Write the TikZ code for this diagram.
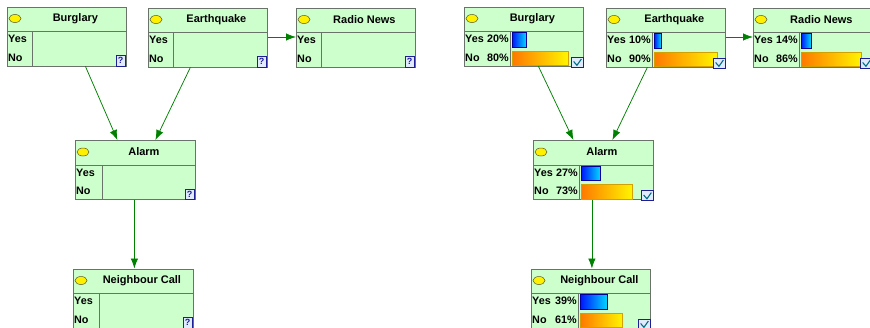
\documentclass[tikz,border=0pt]{standalone}
\usepackage{fontspec}
\setmainfont{Liberation Sans}
\usetikzlibrary{arrows.meta,shapes.geometric}

\definecolor{nodefill}{RGB}{204,255,204}
\definecolor{nodeframe}{RGB}{105,115,105}
\definecolor{linkgreen}{RGB}{0,128,0}
\definecolor{bulbyellow}{RGB}{255,240,0}
\definecolor{bulbframe}{RGB}{90,90,40}
\definecolor{yesdark}{RGB}{0,20,255}
\definecolor{yeslight}{RGB}{0,215,255}
\definecolor{yesframe}{RGB}{0,0,150}
\definecolor{nodark}{RGB}{255,120,0}
\definecolor{nolight}{RGB}{255,245,0}
\definecolor{noframe}{RGB}{210,160,0}
\definecolor{iconblue}{RGB}{30,30,150}
\definecolor{iconfill}{RGB}{225,235,255}
\definecolor{checkteal}{RGB}{0,110,130}

\newcommand{\bayesnode}[5]{%
  \node[nodebox, minimum width=#3pt, anchor=north west] (#1) at (#2) {};
  \draw[nodeline] ([yshift=-25pt]#1.north west) coordinate (#1-sep) -- ([yshift=-25pt]#1.north east);
  \draw[nodeline] ([xshift=#5pt]#1-sep) coordinate (#1-col) -- ([xshift=#5pt]#1.south west);
  \node[bulb] (#1-bulb) at ([xshift=8pt,yshift=-12pt]#1.north west) {};
  \node[nodetitle] (#1-title) at ([xshift=8.5pt,yshift=-12pt]#1.north) {#4};
  \node[statelabel, anchor=west] (#1-yes) at ([xshift=0.5pt,yshift=-7.5pt]#1-sep) {Yes};
  \node[statelabel, anchor=west] (#1-no) at ([xshift=0.5pt,yshift=-26pt]#1-sep) {No};
}
\newcommand{\bayesquery}[1]{%
  \node[queryicon, anchor=south east] (#1-query) at ([xshift=-1pt]#1.south east) {?};
}
\newcommand{\bayesbars}[3]{%
  \shade[yesbar] ([xshift=2pt,yshift=-1pt]#1-col) rectangle ++({0.7*#2},14.5);
  \shade[nobar] ([xshift=2pt,yshift=-19.5pt]#1-col) rectangle ++({0.7*#3},14.5);
  \node[statelabel, anchor=east] (#1-yesp) at ([xshift=-0.5pt]#1-col |- #1-yes) {#2\%};
  \node[statelabel, anchor=east] (#1-nop) at ([xshift=-0.5pt]#1-col |- #1-no) {#3\%};
  \node[checkicon, anchor=south east] (#1-check) at ([yshift=-1pt]#1.south east) {};
  \draw[checkmark] ([xshift=2.5pt,yshift=0.5pt]#1-check.west) -- ([xshift=-0.5pt,yshift=2pt]#1-check.south)
    -- ([xshift=-2.5pt,yshift=-2.5pt]#1-check.north east);
}

\begin{document}
\begin{tikzpicture}[x=1pt, y=-1pt,
    nodebox/.style={rectangle, draw=nodeframe, fill=nodefill, line width=0.8pt, inner sep=0pt, minimum height=59pt},
    nodeline/.style={draw=nodeframe, line width=0.8pt},
    bulb/.style={ellipse, draw=bulbframe, fill=bulbyellow, line width=0.5pt, inner sep=0pt, minimum width=12pt, minimum height=8pt},
    nodetitle/.style={font=\fontsize{11}{13}\selectfont\bfseries, inner sep=0pt},
    statelabel/.style={font=\fontsize{10.8}{13}\selectfont\bfseries, inner sep=0.5pt, text height=7.8pt, text depth=0pt},
    yesbar/.style={left color=yesdark, right color=yeslight, draw=yesframe, line width=0.5pt},
    nobar/.style={left color=nodark, right color=nolight, draw=noframe, line width=0.5pt},
    queryicon/.style={rectangle, draw=iconblue, fill=iconfill, text=iconblue, line width=0.7pt, inner sep=0pt,
      minimum width=9.5pt, minimum height=10.5pt, font=\fontsize{9}{9}\selectfont\bfseries},
    checkicon/.style={rectangle, draw=iconblue, fill=iconfill, line width=0.7pt, inner sep=0pt,
      minimum width=12pt, minimum height=10pt},
    checkmark/.style={draw=checkteal, line width=1.1pt},
    link/.style={draw=linkgreen, line width=0.75pt, -{Latex[length=10pt,width=7.5pt]}}]
  \useasboundingbox (0,0) rectangle (870,327);

  \bayesnode{burglary}{7,6.5}{119}{Burglary}{25}
  \bayesnode{earthquake}{148,7.5}{119}{Earthquake}{25}
  \bayesnode{radio}{296,7.5}{119}{Radio News}{25}
  \bayesnode{alarm}{75,140}{120}{Alarm}{27}
  \bayesnode{call}{73,268.5}{120}{Neighbour Call}{26}
  \bayesquery{burglary}
  \bayesquery{earthquake}
  \bayesquery{radio}
  \bayesquery{alarm}
  \bayesquery{call}

  \draw[link] ([xshift=18.5pt]burglary.south) -- ([xshift=-18pt]alarm.north);
  \draw[link] ([xshift=-17.5pt]earthquake.south) -- ([xshift=20pt]alarm.north);
  \draw[link] ([yshift=-29.5pt]earthquake.north east) -- ([yshift=-29.5pt]radio.north west);
  \draw[link] ([xshift=-1pt]alarm.south) -- ([xshift=-1pt]alarm.south |- call.north);

  \bayesnode{burglaryE}{464,6.5}{119}{Burglary}{46}
  \bayesnode{earthquakeE}{606,7.5}{119}{Earthquake}{46}
  \bayesnode{radioE}{753,7.5}{119}{Radio News}{46}
  \bayesnode{alarmE}{533,140}{120}{Alarm}{46}
  \bayesnode{callE}{531,268.5}{119}{Neighbour Call}{47}
  \bayesbars{burglaryE}{20}{80}
  \bayesbars{earthquakeE}{10}{90}
  \bayesbars{radioE}{14}{86}
  \bayesbars{alarmE}{27}{73}
  \bayesbars{callE}{39}{61}

  \draw[link] ([xshift=14.5pt]burglaryE.south) -- ([xshift=-20pt]alarmE.north);
  \draw[link] ([xshift=-18.5pt]earthquakeE.south) -- ([xshift=19pt]alarmE.north);
  \draw[link] ([yshift=-29.5pt]earthquakeE.north east) -- ([yshift=-29.5pt]radioE.north west);
  \draw[link] ([xshift=-1.5pt]alarmE.south) -- ([xshift=-1.5pt]alarmE.south |- callE.north);
\end{tikzpicture}
\end{document}
